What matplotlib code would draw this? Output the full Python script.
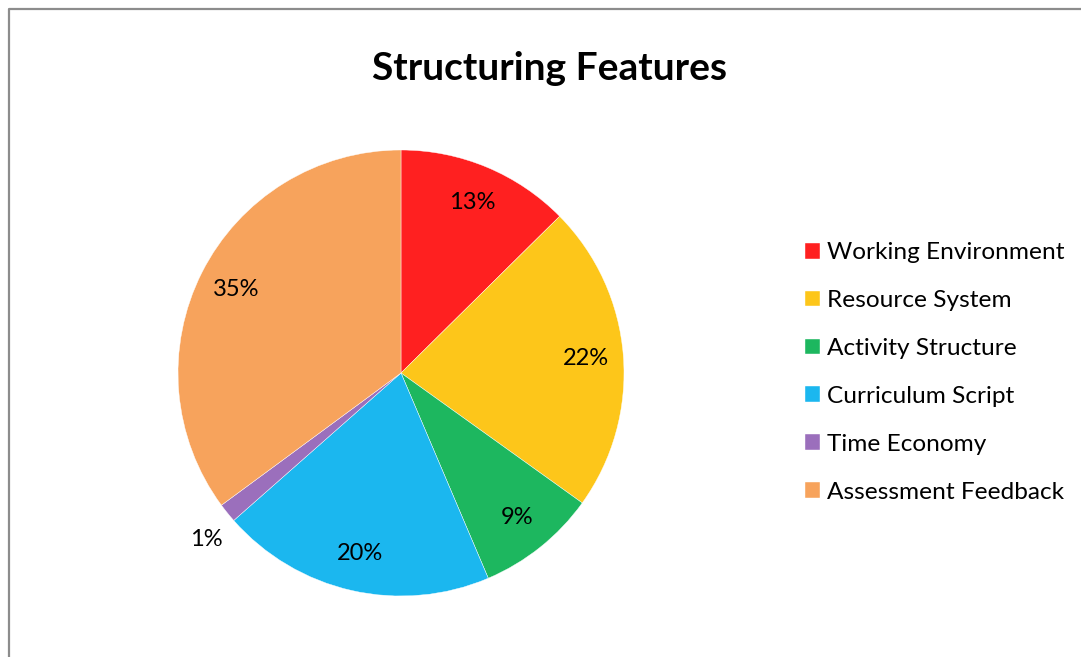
import matplotlib
matplotlib.use("Agg")
import matplotlib.pyplot as plt
from matplotlib.lines import Line2D
import numpy as np

# ── Data ──────────────────────────────────────────────────────────────────────
categories = ["Working Environment", "Resource System", "Activity Structure",
              "Curriculum Script", "Time Economy", "Assessment Feedback"]
shares = [12.6, 22.3, 8.7, 19.9, 1.4, 35.1]   # percent
colors = ["#FF2020", "#FDC61A", "#1DB75F", "#1BB7EF", "#9B6FBC", "#F7A35C"]

plt.rcParams["font.family"] = ["Lato", "DejaVu Sans"]

fig = plt.figure(figsize=(10.81, 6.57), dpi=100)
fig.patch.set_facecolor("white")

# pie axes: centre (401, 373) px, radius 223 px
W, H = 1081, 657
cx, cy, r = 401 / W, 1 - 373 / H, 223
ax = fig.add_axes([cx - r / W, cy - r / H, 2 * r / W, 2 * r / H])

wedges, texts, autotexts = ax.pie(
    shares, colors=colors, startangle=90, counterclock=False,
    autopct="%1.0f%%", pctdistance=0.83, radius=1.0,
    wedgeprops=dict(edgecolor="white", linewidth=0.3),
    textprops=dict(fontsize=17, color="black"))
ax.set_xlim(-1, 1)
ax.set_ylim(-1, 1)
ax.set_aspect("auto")
ax.axis("off")

# the tiny slice gets its label outside
for w, t, s in zip(wedges, autotexts, shares):
    if s < 3:
        ang = np.deg2rad((w.theta1 + w.theta2) / 2)
        t.set_position((1.12 * np.cos(ang), 1.19 * np.sin(ang)))

fig.text(549 / W, 1 - 69 / H, "Structuring Features", ha="center", va="center",
         fontsize=28, fontweight="bold")

fig.legend(wedges, categories, loc="center left",
           bbox_to_anchor=(805 / W, 1 - 372.5 / H), frameon=False,
           fontsize=17.6, handlelength=0.62, handleheight=0.62,
           handletextpad=0.28, labelspacing=1.1, borderpad=0, borderaxespad=0)

# chart-area border (left and top edges visible)
bx, by = 8.5 / W, 1 - 8.5 / H
fig.add_artist(Line2D([bx, bx, 1.0], [0.0, by, by], transform=fig.transFigure,
                      color="#8C8C8C", lw=1.6))

plt.savefig("out.png", dpi=100, facecolor="white")
